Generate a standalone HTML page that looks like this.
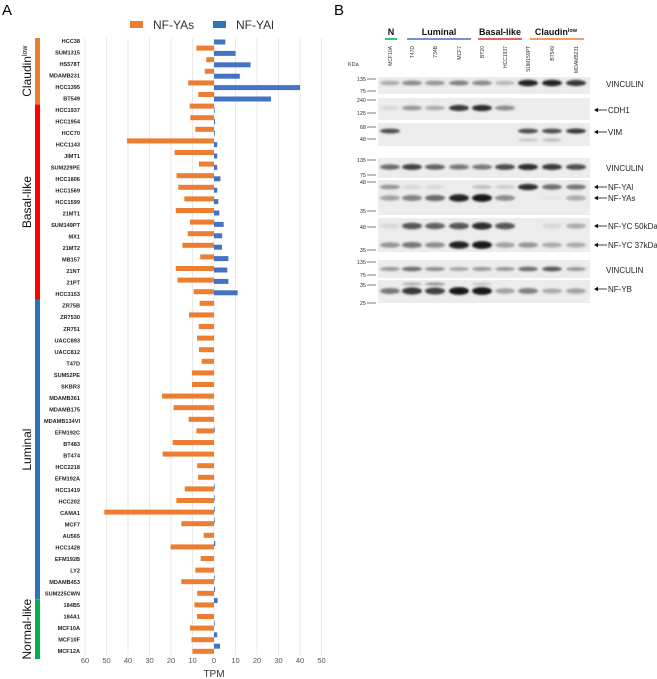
<!DOCTYPE html>
<html><head><meta charset="utf-8"><style>
html,body{margin:0;padding:0;background:#fff;width:657px;height:679px;overflow:hidden}
svg{display:block;font-family:"Liberation Sans",sans-serif}
</style></head><body>
<svg id="fig" width="657" height="679" viewBox="0 0 657 679">
<defs><filter id="blur" x="-20%" y="-100%" width="140%" height="300%"><feGaussianBlur stdDeviation="1.1"/></filter></defs>
<text x="2" y="15" font-size="15">A</text>
<text x="334" y="15" font-size="15">B</text>
<g id="chart"></g>
<g id="blot"></g>
</svg>
<script>
const categories=["HCC38","SUM1315","HS578T","MDAMB231","HCC1395","BT549","HCC1937","HCC1954","HCC70","HCC1143","JIMT1","SUM229PE","HCC1806","HCC1569","HCC1599","21MT1","SUM149PT","MX1","21MT2","MB157","21NT","21PT","HCC3153","ZR75B","ZR7530","ZR751","UACC893","UACC812","T47D","SUM52PE","SKBR3","MDAMB361","MDAMB175","MDAMB134VI","EFM192C","BT483","BT474","HCC2218","EFM192A","HCC1419","HCC202","CAMA1","MCF7","AU565","HCC1428","EFM192B","LY2","MDAMB453","SUM225CWN","184B5","184A1","MCF10A","MCF10F","MCF12A"];
const nfyaS=[0,8.2,3.6,4.3,12,7.3,11.3,11,8.7,40.5,18.3,7,17.4,16.6,13.8,17.8,11.2,12.2,14.7,6.4,17.8,17,9.5,6.7,11.6,7.1,7.9,7,5.7,10.2,10.2,24.2,18.8,11.8,8.2,19.2,23.9,7.8,7.4,13.6,17.5,51,15.2,4.8,20.2,6.2,8.7,15.2,7.8,9.1,7.9,11.2,10.5,10];
const nfyaL=[5.3,10,17,12,40,26.5,0.3,0.5,0.4,1.5,1.5,1.5,3,1.5,2,2.5,4.5,3.8,3.7,6.7,6.2,6.7,11,0,0,0,0,0,0,0,0,0,0,0,0.3,0,0,0,0,0.3,0.3,0.3,0.3,0,0.6,0,0,0.3,0.5,1.7,0,0.3,1.5,2.8];
const ticks=[-60,-50,-40,-30,-20,-10,0,10,20,30,40,50];
const tickLabels=["60","50","40","30","20","10","0","10","20","30","40","50"];
const groups=["Claudin","Basal-like","Luminal","Normal-like"];
const groupStart=[0,6,23,49];
const groupEnd=[5,22,48,53];
const groupColors=["#ed7d31","#ff0000","#2e75b6","#00b050"];

const NS="http://www.w3.org/2000/svg";
function mk(tag,attrs,parent,txt){const e=document.createElementNS(NS,tag);for(const k in attrs)e.setAttribute(k,attrs[k]);if(txt!==undefined)e.textContent=txt;parent.appendChild(e);return e;}
const chart=document.getElementById('chart');
const x=v=>214+v*2.15;
const rowY=i=>41+i*11.51;
const orangeY=i=>36.5+i*11.6;
const blueY=i=>42+i*11.4;

// gridlines + ticks
ticks.forEach((t,k)=>{
  const g=mk('line',{x1:x(t),x2:x(t),y1:38,y2:655,stroke:'#e4e4e4','stroke-width':0.8},chart);
  
  
  const l=mk('text',{x:x(t),y:663,'font-size':7.5,fill:'#555','text-anchor':'middle'},chart,tickLabels[k]);
  
  
});
const tt=mk('text',{x:214,y:677,'font-size':10,fill:'#333','text-anchor':'middle'},chart,'TPM');



categories.forEach((c,i)=>{
  const lb=mk('text',{x:80,y:rowY(i)+2,'font-size':5.6,'font-weight':'bold',fill:'#222','text-anchor':'end'},chart,c);
  
  
  if(nfyaS[i]>0){
    const b=mk('rect',{x:x(-nfyaS[i]),y:orangeY(i)-2.5,width:x(0)-x(-nfyaS[i]),height:5,fill:'#ed7d31'},chart);
    
    
  }
  if(nfyaL[i]>0){
    const b=mk('rect',{x:x(0),y:blueY(i)-2.5,width:Math.max(0.7,x(nfyaL[i])-x(0)),height:5,fill:'#4472c4'},chart);
    
    
  }
});
// group bars
groups.forEach((gname,k)=>{
  const y0=k===0?38:(rowY(groupStart[k])-5.7), y1=k===3?659:(rowY(groupEnd[k])+5.7);
  const r=mk('rect',{x:35,y:y0,width:5,height:y1-y0,fill:groupColors[k]},chart);
  
  
  const cy=(y0+y1)/2;
  const t=mk('text',{x:0,y:0,'font-size':12,fill:'#111','text-anchor':'middle',transform:`translate(31,${cy}) rotate(-90)`},chart,gname);
  if(k===0){const s=mk('tspan',{'font-size':7,dy:-4},t,'low');}
  
  
});
// legend
const l1=mk('rect',{x:130,y:21,width:13,height:7,fill:'#ed7d31'},chart);

const l2=mk('text',{x:153,y:29,'font-size':12,fill:'#333'},chart,'NF-YAs');

const l3=mk('rect',{x:213,y:21,width:13,height:7,fill:'#2e75b6'},chart);

const l4=mk('text',{x:236,y:29,'font-size':12,fill:'#333'},chart,'NF-YAl');


// ===== Panel B western blot =====
const lanes=["MCF10A","T47D","734B","MCF7","BT20","HCC1937","SUM159PT","BT549","MDAMB231"];
const laneX=[390,412,435,459,482,505,528,552,576];
const blot=document.getElementById('blot');
const headers=[["N",391,385,397,"#00b050"],["Luminal",439,407,471,"#4472c4"],["Basal-like",500,478,522,"#e0302a"],["Claudin",556,530,584,"#ed7d31"]];
headers.forEach(h=>{
  const t=mk('text',{x:h[1],y:35,'font-size':9,'font-weight':'bold','text-anchor':'middle',fill:'#111'},blot,h[0]);
  if(h[0]==="Claudin")mk('tspan',{'font-size':5.5,dy:-3},t,'low');
  
  const u=mk('line',{x1:h[2],x2:h[3],y1:39,y2:39,stroke:h[4],'stroke-width':1.5},blot);
  
});
lanes.forEach((n,i)=>{
  const t=mk('text',{x:0,y:0,'font-size':5,fill:'#333','text-anchor':'end',transform:`translate(${laneX[i]+2},46) rotate(-90)`},blot,n);
  
});
const kda=mk('text',{x:348,y:66,'font-size':5.5,fill:'#333'},blot,'KDa');


const panels=[[77,94],[98,120],[123,146],[158,178],[180,215],[218,252],[260,278],[280,303]];
panels.forEach(p=>{
  const r=mk('rect',{x:378,y:p[0],width:212,height:p[1]-p[0],fill:'#ececec'},blot);
  
});
const markers=[["135",79],["75",91],["240",100],["125",113],["68",127],["48",139],["135",160],["75",175],["48",182],["35",211],["48",227],["35",250],["135",262],["75",275],["35",285],["25",303]];
markers.forEach(m=>{
  const t=mk('text',{x:366,y:m[1]+2,'font-size':5.5,fill:'#333','text-anchor':'end'},blot,m[0]);
  
  const l=mk('line',{x1:367,x2:376,y1:m[1],y2:m[1],stroke:'#444','stroke-width':0.7},blot);
  
});
const bandRows=[
 [83,[0.3,0.45,0.4,0.5,0.45,0.25,0.95,0.95,0.85],3],
 [108,[0.1,0.4,0.3,0.85,0.9,0.45,0,0,0],3],
 [131,[0.75,0,0,0,0,0,0.75,0.75,0.85],2.5],
 [140,[0,0,0,0,0,0,0.2,0.25,0],2],
 [167,[0.6,0.8,0.65,0.55,0.55,0.75,0.9,0.85,0.75],3],
 [187,[0.4,0.1,0.1,0,0.2,0.15,0.9,0.6,0.55],3],
 [198,[0.35,0.5,0.6,0.95,1,0.45,0,0.05,0.3],3.5],
 [226,[0.1,0.7,0.65,0.7,0.9,0.7,0,0.1,0.3],3.5],
 [245,[0.4,0.55,0.45,0.95,1,0.35,0.4,0.3,0.3],3.5],
 [269,[0.4,0.6,0.45,0.35,0.4,0.4,0.6,0.7,0.4],2.5],
 [284,[0,0.3,0.4,0,0.2,0,0,0,0],2],
 [291,[0.55,0.85,0.8,1,1,0.35,0.5,0.3,0.35],3.5]];
bandRows.forEach(b=>{
  b[1].forEach((v,i)=>{
    if(v<=0)return;
    const e=mk('ellipse',{cx:laneX[i],cy:b[0],rx:10,ry:b[2]*(0.6+0.5*v),fill:'#000','fill-opacity':v*0.9,filter:'url(#blur)'},blot);
    
  });
});
const prot=[["VINCULIN",84,false],["CDH1",110,true],["VIM",132,true],["VINCULIN",168,false],["NF-YAl",187,true],["NF-YAs",198,true],["NF-YC 50kDa",226,true],["NF-YC 37kDa",245,true],["VINCULIN",270,false],["NF-YB",289,true]];
prot.forEach(p=>{
  if(p[2]){
    const a=mk('line',{x1:596,x2:607,y1:p[1],y2:p[1],stroke:'#111','stroke-width':0.8},blot);
    
    mk('path',{d:`M594 ${p[1]} l4 -2.2 v4.4z`,fill:'#111'},blot);
  }
  const t=mk('text',{x:p[2]?608:606,y:p[1]+3,'font-size':8,fill:'#222'},blot,p[0]);
  
});
</script>
</body></html>
